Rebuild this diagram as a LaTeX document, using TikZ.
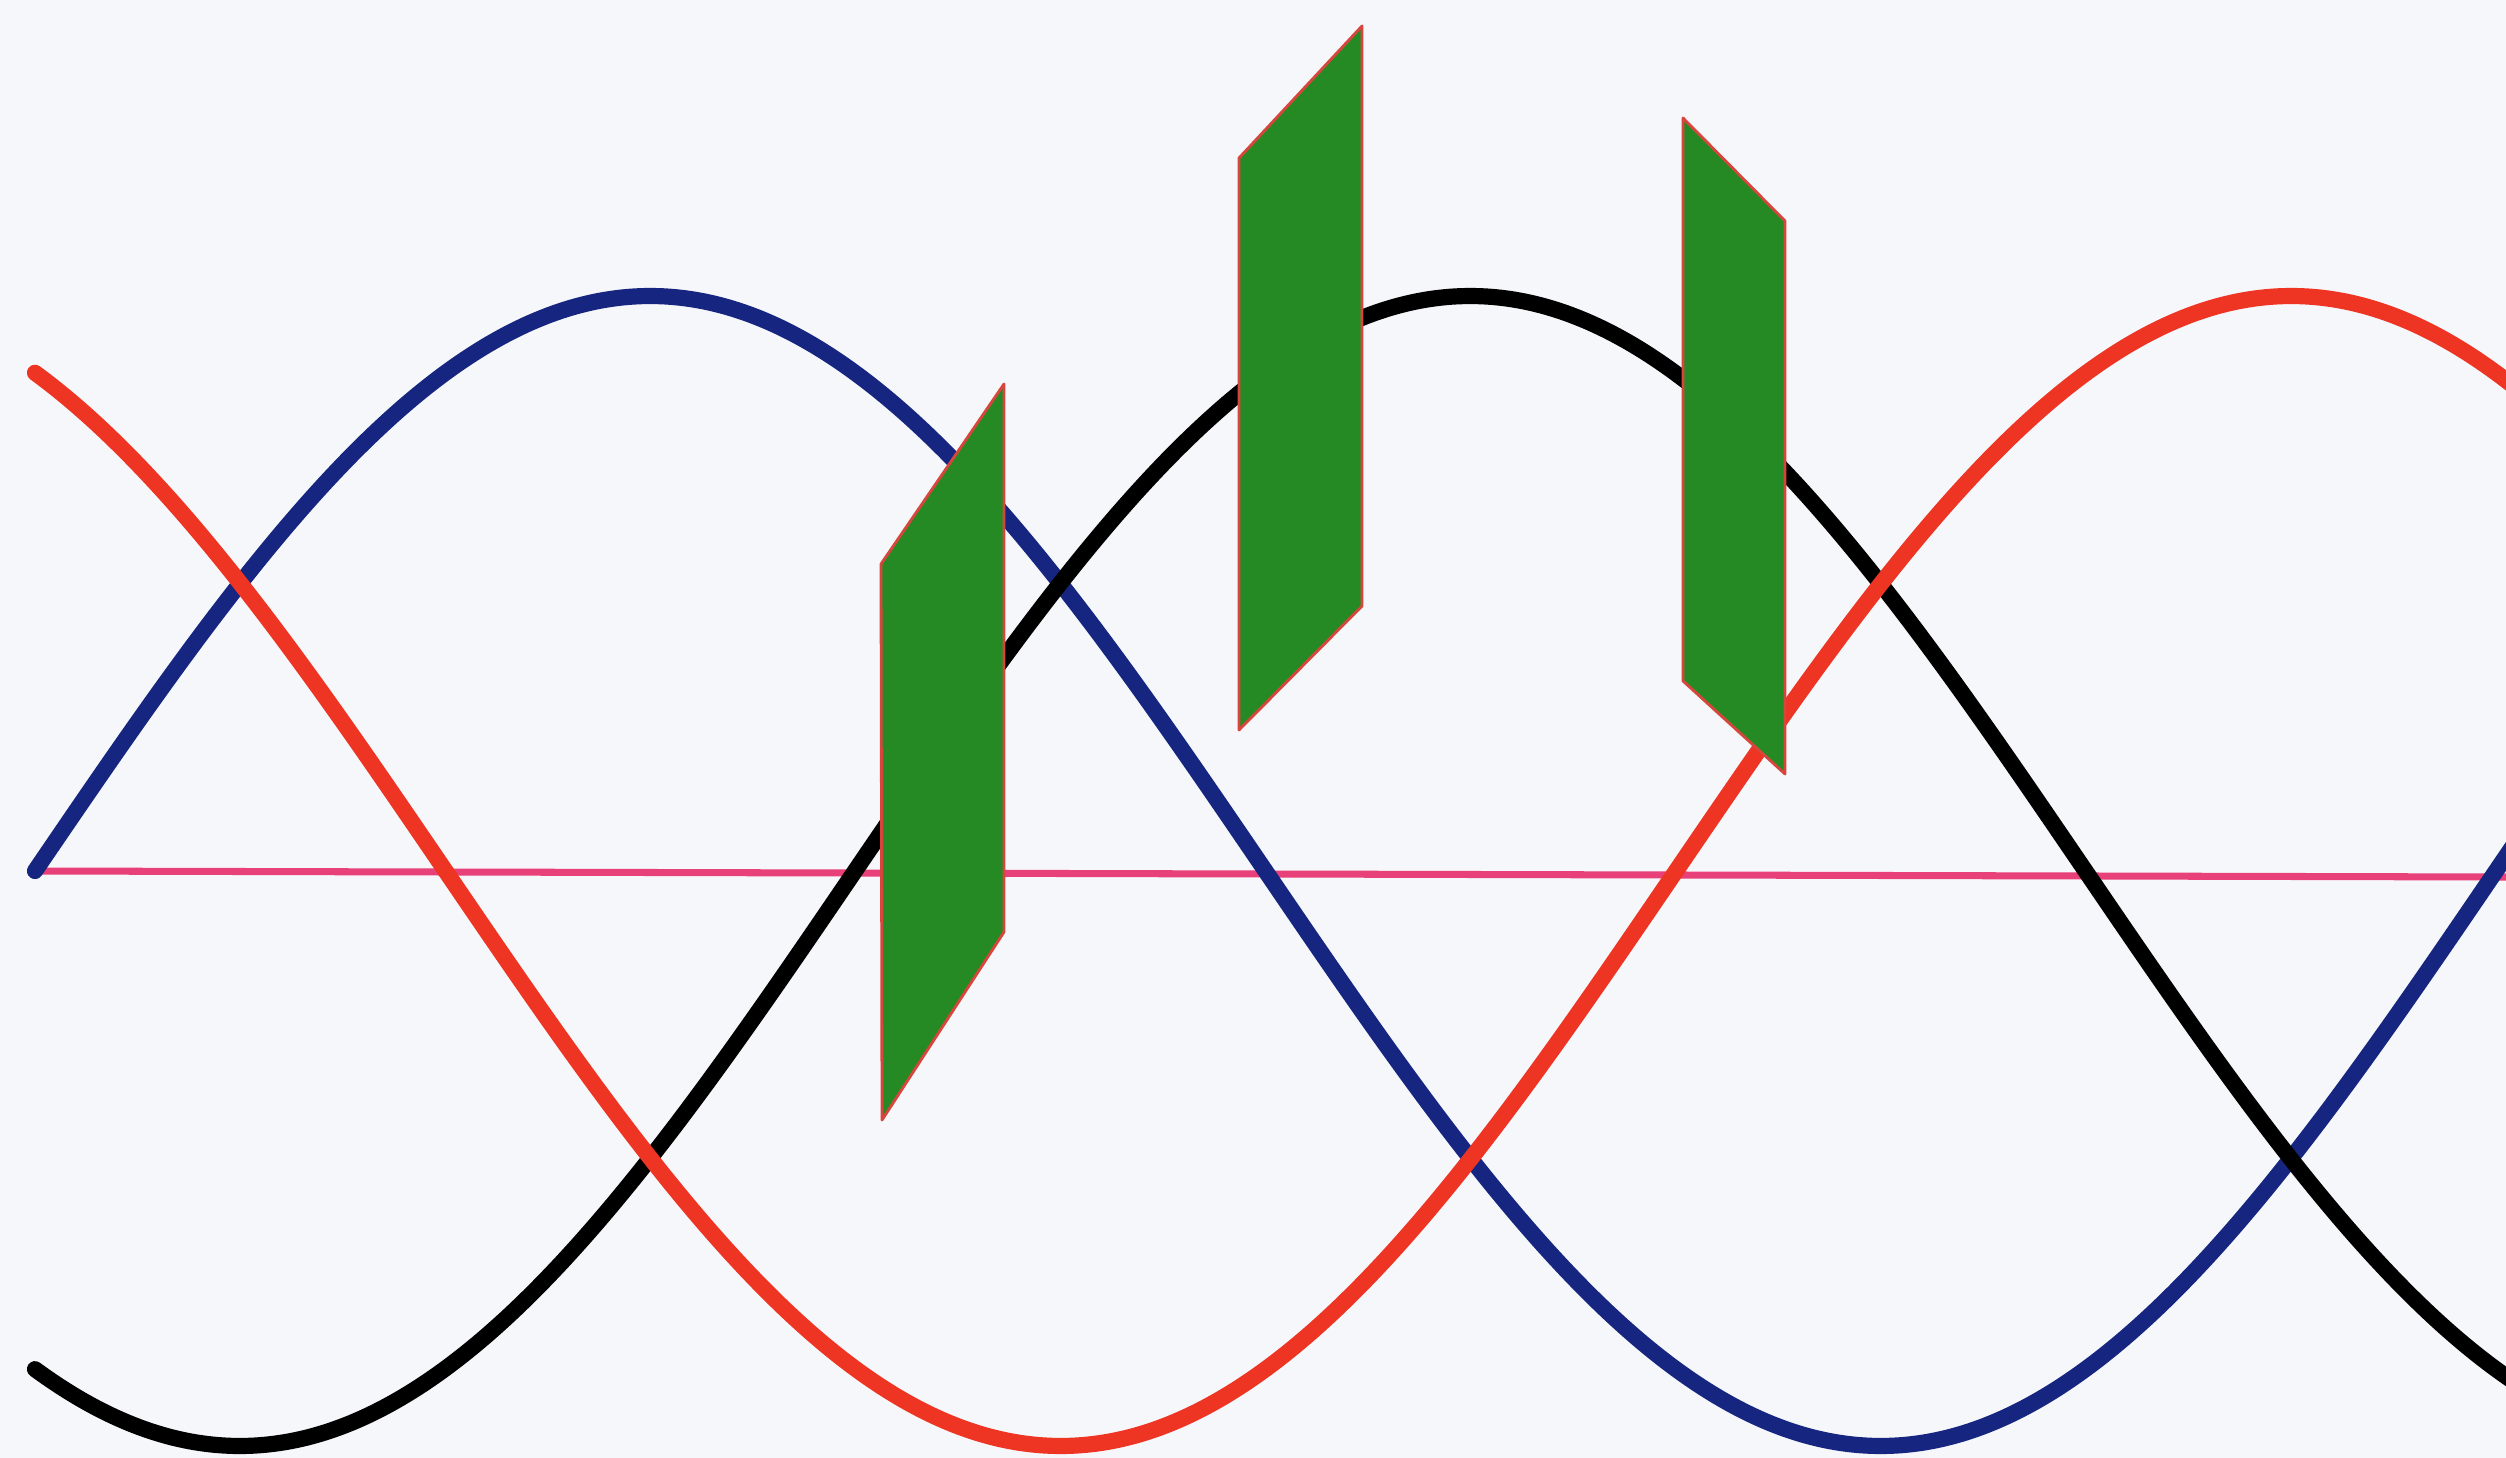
\documentclass[tikz,border=0pt]{standalone}
\begin{document}
\definecolor{bg}{RGB}{246,247,250}
\definecolor{wblue}{RGB}{22,38,128}
\definecolor{wred}{RGB}{238,52,34}
\definecolor{wpink}{RGB}{232,64,120}
\definecolor{pgreen}{RGB}{38,138,36}
\definecolor{pedge}{RGB}{214,70,60}
\begin{tikzpicture}[x=0.01cm,y=-0.01cm,
  wave/.style={line width=4.6pt,line cap=round,smooth},
  plate/.style={fill=pgreen,draw=pedge,line width=0.8pt,line join=round}]
\fill[bg] (0,0) rectangle (2506,1458);
\useasboundingbox (0,0) rectangle (2506,1458);
% axis
\draw[wpink,line width=2pt] (35,871) -- (2506,877);
% three phase waves
\draw[wave,wblue] plot[domain=35:2540,samples=240] (\x,{871-575*sin(0.14628*(\x-35))});
\draw[wave,black] plot[domain=35:2540,samples=240] (\x,{871-575*sin(0.14628*(\x-855))});
\draw[wave,wred] plot[domain=35:2540,samples=240] (\x,{871-575*sin(0.14628*(\x-1676))});
% plates
\filldraw[plate] (881,564) -- (1004,384) -- (1004,932) -- (882,1120) -- cycle;
\filldraw[plate] (1239,158) -- (1362,26) -- (1362,606) -- (1239,730) -- cycle;
\filldraw[plate] (1683,118) -- (1785,221) -- (1785,774) -- (1683,681) -- cycle;
\end{tikzpicture}
\end{document}
